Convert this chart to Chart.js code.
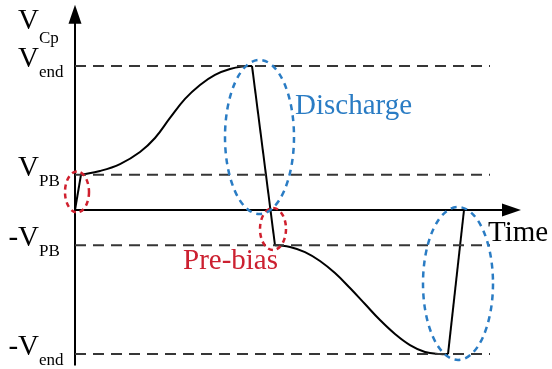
<!DOCTYPE html>
<html>
<head>
<meta charset="utf-8">
<script src="https://cdn.jsdelivr.net/npm/chart.js@4"></script>
<style>
  body { margin: 0; background: #fff; }
  #wrap { width: 552px; height: 369px; }
</style>
</head>
<body>
<div id="wrap"><canvas id="myChart"></canvas></div>
<script>
const ctx = document.getElementById('myChart').getContext('2d');

// levels of the dashed lines (Vend = 1)
const levels = [1, 0.245, -0.245, -1];
const levelMain = ['V', 'V', '-V', '-V'];
const levelSub = ['end', 'PB', 'PB', 'end'];

// charging curve, from V_PB up to V_end
const riseT = [0.6, 2.5, 4.5, 6.5, 8.0, 9.5, 11.0, 12.5, 14.0, 15.5, 17.0, 17.7];
const riseV = [0.245, 0.271, 0.319, 0.403, 0.5, 0.639, 0.771, 0.868, 0.938, 0.979, 0.998, 1.0];
// negative curve, from -V_PB down to -V_end
const fallT = [20.3, 21.5, 23.0, 24.5, 26.0, 27.5, 29.0, 30.5, 32.0, 33.5, 35.0, 36.5, 37.3];
const fallV = [-0.245, -0.257, -0.292, -0.354, -0.438, -0.542, -0.653, -0.764, -0.861, -0.938, -0.986, -1.0, -1.0];
// straight jumps (pre-bias, discharge, pre-bias, discharge)
const jumpT = [[0, 0.6], [17.7, 20.0], [20.0, 20.3], [37.3, 38.9]];
const jumpV = [[0, 0.245], [1.0, -0.245], [-0.245, -0.245], [-1.0, 0]];

// ellipses: center t, center v, radius t, radius v
const ellT = [0.2, 19.8, 18.45, 38.3];
const ellV = [0.125, -0.132, 0.507, -0.51];
const ellRx = [1.2, 1.3, 3.45, 3.5];
const ellRy = [0.142, 0.146, 0.535, 0.531];
const ellColor = ['#d0202e', '#d0202e', '#2a7cc4', '#2a7cc4'];

const dashEnd = 41.5;
const axisEndT = 42.8;
const axisTopV = 1.3;
const axisBottomV = -1.08;

const toPoints = (ts, vs) => ts.map((t, i) => ({ x: t, y: vs[i] }));

const datasets = [];

levels.forEach(v => {
  datasets.push({
    data: [{ x: 0, y: v }, { x: dashEnd, y: v }],
    borderColor: '#363636',
    borderWidth: 2,
    borderDash: [11, 7],
    pointRadius: 0
  });
});

// axes
datasets.push({
  data: [{ x: 0, y: axisBottomV }, { x: 0, y: axisTopV }],
  borderColor: '#000', borderWidth: 2, pointRadius: 0
});
datasets.push({
  data: [{ x: 0, y: 0 }, { x: axisEndT, y: 0 }],
  borderColor: '#000', borderWidth: 2, pointRadius: 0
});

jumpT.forEach((ts, i) => {
  datasets.push({
    data: toPoints(ts, jumpV[i]),
    borderColor: '#000', borderWidth: 2, pointRadius: 0, tension: 0
  });
});

[[riseT, riseV], [fallT, fallV]].forEach(([ts, vs]) => {
  datasets.push({
    data: toPoints(ts, vs),
    borderColor: '#000', borderWidth: 2, pointRadius: 0,
    tension: 0.4
  });
});

const decorations = {
  id: 'decorations',
  beforeDraw(chart) {
    const c = chart.ctx;
    c.save();
    c.fillStyle = '#fff';
    c.fillRect(0, 0, chart.width, chart.height);
    c.restore();
  },
  afterDatasetsDraw(chart) {
    const c = chart.ctx;
    const xs = chart.scales.x, ys = chart.scales.y;
    c.save();

    // arrow heads
    const ax = xs.getPixelForValue(0), ay = ys.getPixelForValue(axisTopV);
    c.fillStyle = '#000';
    c.beginPath();
    c.moveTo(ax, ay - 18);
    c.lineTo(ax - 6.5, ay + 1);
    c.lineTo(ax + 6.5, ay + 1);
    c.closePath();
    c.fill();
    const bx = xs.getPixelForValue(axisEndT), by = ys.getPixelForValue(0);
    c.beginPath();
    c.moveTo(bx + 18, by);
    c.lineTo(bx - 1, by - 6.5);
    c.lineTo(bx - 1, by + 6.5);
    c.closePath();
    c.fill();

    // ellipses
    c.lineWidth = 2.5;
    ellT.forEach((t, i) => {
      const cx = xs.getPixelForValue(t), cy = ys.getPixelForValue(ellV[i]);
      const rx = Math.abs(xs.getPixelForValue(t + ellRx[i]) - cx);
      const ry = Math.abs(ys.getPixelForValue(ellV[i] + ellRy[i]) - cy);
      c.strokeStyle = ellColor[i];
      c.setLineDash(i < 2 ? [5, 4] : [6, 5]);
      c.beginPath();
      c.ellipse(cx, cy, rx, ry, 0, 0, Math.PI * 2);
      c.stroke();
    });
    c.setLineDash([]);

    // labels
    const big = '29px "Liberation Serif"';
    const small = '17px "Liberation Serif"';
    c.fillStyle = '#000';
    c.textBaseline = 'alphabetic';
    const label = (main, sub, y, subY) => {
      c.font = big;
      c.textAlign = 'right';
      c.fillText(main, 39, y);
      c.font = small;
      c.textAlign = 'left';
      c.fillText(sub, 39, subY);
    };
    label('V', 'Cp', 29, 43);
    levels.forEach((v, i) => {
      const py = ys.getPixelForValue(v);
      label(levelMain[i], levelSub[i], py + 1, py + 11);
    });

    c.font = big;
    c.textAlign = 'left';
    c.fillText('Time', 488, by + 31);
    c.fillStyle = '#2a7cc4';
    c.fillText('Discharge', 295, 114);
    c.fillStyle = '#cc2030';
    c.fillText('Pre-bias', 183, 269);
    c.restore();
  }
};

const diagram = new Chart(ctx, {
  type: 'line',
  data: { datasets: datasets },
  options: {
    responsive: true,
    maintainAspectRatio: false,
    animation: false,
    layout: { padding: 0 },
    plugins: { legend: { display: false }, tooltip: { enabled: false } },
    scales: {
      x: { type: 'linear', display: false, min: -7.5, max: 47.7 },
      y: { type: 'linear', display: false, min: -1.104, max: 1.458 }
    }
  },
  plugins: [decorations]
});
</script>
</body>
</html>
